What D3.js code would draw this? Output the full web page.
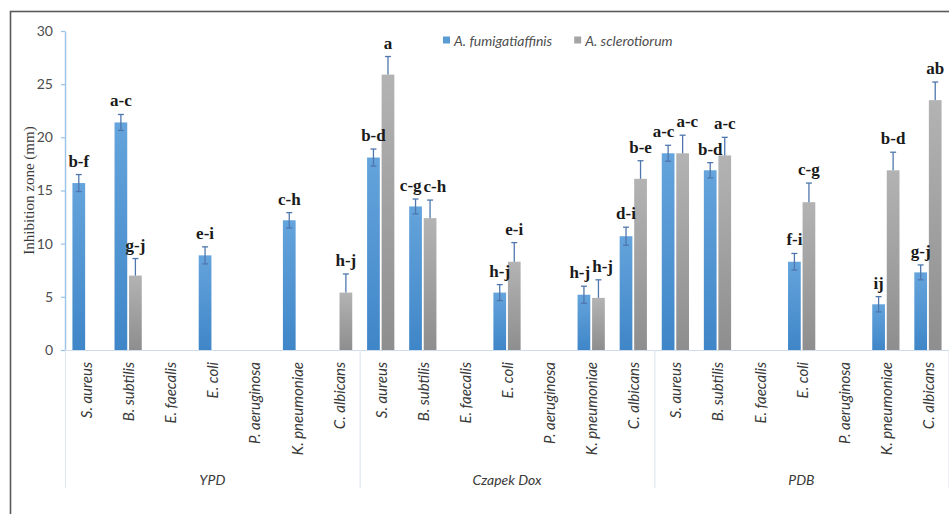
<!DOCTYPE html>
<html>
<head>
<meta charset="utf-8">
<script src="https://cdn.jsdelivr.net/npm/d3@7"></script>
<style>
  html, body { margin: 0; padding: 0; background: #fff; }
  svg { display: block; }
</style>
</head>
<body>
<svg id="chart" width="949" height="514"></svg>
<script>
// Culture media (category groups) and test organisms
const media = ["YPD", "Czapek Dox", "PDB"];
const organisms = ["S. aureus", "B. subtilis", "E. faecalis", "E. coli", "P. aeruginosa", "K. pneumoniae", "C. albicans"];
const seriesNames = ["A. fumigatiaffinis", "A. sclerotiorum"];

// Inhibition zone (mm), one value per medium × organism; null = no zone
const fumigatiaffinis = [15.7, 21.4, null, 8.9, null, 12.2, null,
                         18.1, 13.5, null, 5.4, null, 5.2, 10.7,
                         18.5, 16.9, null, 8.3, null, 4.3, 7.3];
const fumigatiaffinisErr = [0.8, 0.75, null, 0.8, null, 0.72, null,
                            0.8, 0.7, null, 0.75, null, 0.8, 0.85,
                            0.75, 0.72, null, 0.78, null, 0.72, 0.7];
const fumigatiaffinisLetters = ["b-f", "a-c", "", "e-i", "", "c-h", "",
                                "b-d", "c-g", "", "h-j", "", "h-j", "d-i",
                                "a-c", "b-d", "", "f-i", "", "ij", "g-j"];

const sclerotiorum = [null, 7.0, null, null, null, null, 5.4,
                      25.9, 12.4, null, 8.3, null, 4.9, 16.1,
                      18.5, 18.3, null, 13.9, null, 16.9, 23.5];
const sclerotiorumErr = [null, 1.6, null, null, null, null, 1.75,
                         1.7, 1.7, null, 1.8, null, 1.7, 1.7,
                         1.7, 1.7, null, 1.8, null, 1.7, 1.7];
const sclerotiorumLetters = ["", "g-j", "", "", "", "", "h-j",
                             "a", "c-h", "", "e-i", "", "h-j", "b-e",
                             "a-c", "a-c", "", "c-g", "", "b-d", "ab"];

const yTicks = [0, 5, 10, 15, 20, 25, 30];

// ---- build rows ----
const keys = [];
media.forEach((m, gi) => organisms.forEach((o, oi) => keys.push({ key: m + "|" + o, medium: m, organism: o, idx: gi * organisms.length + oi })));

const seriesData = [
  { name: seriesNames[0], values: fumigatiaffinis, err: fumigatiaffinisErr, letters: fumigatiaffinisLetters, both: true, grad: "gBlue", swatch: "#5b9bd5" },
  { name: seriesNames[1], values: sclerotiorum, err: sclerotiorumErr, letters: sclerotiorumLetters, both: false, grad: "gGray", swatch: "#a5a5a5" }
];

const svg = d3.select("#chart");

// gradients for the bar fills
const defs = svg.append("defs");
function grad(id, top, bottom) {
  const g = defs.append("linearGradient").attr("id", id).attr("x1", 0).attr("y1", 0).attr("x2", 0).attr("y2", 1);
  g.append("stop").attr("offset", "0%").attr("stop-color", top);
  g.append("stop").attr("offset", "100%").attr("stop-color", bottom);
}
grad("gBlue", "#65a4dc", "#3f86c8");
grad("gGray", "#b3b3b3", "#8e8e8e");

// outer frame
svg.append("rect").attr("x", 10.5).attr("y", 11.5).attr("width", 960).attr("height", 530)
  .attr("fill", "none").attr("stroke", "#5a5a5a").attr("stroke-width", 1.6);

const plotLeft = 65, plotRight = 949, plotTop = 31, plotBottom = 350;

const x0 = d3.scaleBand().domain(keys.map(d => d.key)).range([plotLeft, plotRight]).padding(0);
const bw = x0.bandwidth();
const clusterHalf = bw * 0.345;
const x1 = d3.scaleBand().domain(seriesNames).range([-clusterHalf, clusterHalf]).padding(0);
const y = d3.scaleLinear().domain([0, 30]).range([plotBottom, plotTop]);

// y axis
const yAxis = svg.append("g").attr("transform", `translate(${plotLeft},0)`)
  .call(d3.axisLeft(y).tickValues(yTicks).tickSize(4).tickSizeOuter(0).tickPadding(8));
yAxis.select(".domain").attr("stroke", "#9cc2e5").attr("stroke-width", 1.4);
yAxis.selectAll(".tick line").attr("stroke", "#9cc2e5").attr("stroke-width", 1.2);
yAxis.selectAll(".tick text").attr("fill", "#4d4d4d").style("font-family", "Lato, 'Noto Sans', sans-serif").style("font-size", "14px");

// y axis title
svg.append("text")
  .attr("transform", `translate(29,${(plotTop + plotBottom) / 2}) rotate(-90)`)
  .attr("text-anchor", "middle").attr("dominant-baseline", "central")
  .style("font-family", "'Liberation Serif', 'DejaVu Serif', serif").style("font-size", "15px")
  .attr("fill", "#3a3a3a")
  .text("Inhibition zone (mm)");

// x axis baseline and group dividers
svg.append("line").attr("x1", plotLeft).attr("x2", plotRight).attr("y1", plotBottom + 0.5).attr("y2", plotBottom + 0.5)
  .attr("stroke", "#cfdcec").attr("stroke-width", 1.2);
const dividerX = d3.range(media.length + 1).map(i => i === media.length ? plotRight - 0.5 : x0(keys[i * organisms.length].key));
svg.selectAll("line.divider").data(dividerX).join("line").attr("class", "divider")
  .attr("x1", d => d + 0.5).attr("x2", d => d + 0.5).attr("y1", plotBottom).attr("y2", 488)
  .attr("stroke", "#dfe7f1").attr("stroke-width", 1.2);

// category labels
svg.selectAll("text.cat").data(keys).join("text").attr("class", "cat")
  .attr("transform", d => `translate(${x0(d.key) + bw / 2},362) rotate(-90)`)
  .attr("text-anchor", "end").attr("dominant-baseline", "central")
  .style("font-family", "Lato, 'Noto Sans', sans-serif").style("font-style", "italic").style("font-size", "15px")
  .attr("fill", "#3a3a3a")
  .text(d => d.organism);

// group labels
svg.selectAll("text.grp").data(media).join("text").attr("class", "grp")
  .attr("x", (d, i) => (dividerX[i] + dividerX[i + 1]) / 2).attr("y", 479)
  .attr("text-anchor", "middle").attr("dominant-baseline", "central")
  .style("font-family", "Lato, 'Noto Sans', sans-serif").style("font-style", "italic").style("font-size", "14px")
  .attr("fill", "#3a3a3a")
  .text(d => d);

// bars
const inset = 0.9;
seriesData.forEach(s => {
  const rows = keys.filter(k => s.values[k.idx] != null);
  svg.append("g").selectAll("rect").data(rows).join("rect")
    .attr("x", k => x0(k.key) + bw / 2 + x1(s.name) + inset)
    .attr("width", x1.bandwidth() - 2 * inset)
    .attr("y", k => y(s.values[k.idx]))
    .attr("height", k => y(0) - y(s.values[k.idx]))
    .attr("fill", `url(#${s.grad})`);
});

// error bars
const capHalf = 3;
seriesData.forEach(s => {
  const rows = keys.filter(k => s.values[k.idx] != null && s.err[k.idx] != null);
  const g = svg.append("g").attr("stroke", "#4f77ad").attr("stroke-width", 1.3).attr("fill", "none");
  rows.forEach(k => {
    const cx = x0(k.key) + bw / 2 + x1(s.name) + x1.bandwidth() / 2;
    const v = s.values[k.idx], e = s.err[k.idx];
    const lo = s.both ? v - e : v, hi = v + e;
    g.append("line").attr("x1", cx).attr("x2", cx).attr("y1", y(lo)).attr("y2", y(hi));
    g.append("line").attr("x1", cx - capHalf).attr("x2", cx + capHalf).attr("y1", y(hi)).attr("y2", y(hi));
    if (s.both) g.append("line").attr("x1", cx - capHalf).attr("x2", cx + capHalf).attr("y1", y(lo)).attr("y2", y(lo));
  });
});

// significance letters above each bar's error bar
const labelFont = "'Liberation Serif', 'Times New Roman', serif";
const gapAbove = 8;
const labels = [];
seriesData.forEach((s, si) => {
  keys.forEach(k => {
    const t = s.letters[k.idx];
    if (!t || s.values[k.idx] == null) return;
    const cx = x0(k.key) + bw / 2 + x1(s.name) + x1.bandwidth() / 2;
    labels.push({ key: k.key, si, text: t, x: cx, y: y(s.values[k.idx] + (s.err[k.idx] || 0)) - gapAbove });
  });
});
const lg = svg.append("g");
const labelNodes = lg.selectAll("text").data(labels).join("text")
  .attr("text-anchor", "middle")
  .style("font-family", labelFont).style("font-weight", "bold").style("font-size", "17px")
  .attr("fill", "#1a1a1a")
  .text(d => d.text);
labelNodes.each(function (d) { d.w = this.getComputedTextLength(); });
// spread pairs of labels in one category apart when they would collide
d3.groups(labels, d => d.key).forEach(([, pair]) => {
  if (pair.length < 2) return;
  const [a, b] = pair;
  if (Math.abs(a.y - b.y) >= 14) return;
  const need = (a.w + b.w) / 2 + 2 - (b.x - a.x);
  if (need > 0) { a.x -= need / 2; b.x += need / 2; }
});
labelNodes.attr("x", d => d.x).attr("y", d => d.y);

// legend
const legend = svg.append("g").attr("transform", "translate(443,40)");
let lx = 0;
seriesData.forEach(s => {
  const item = legend.append("g").attr("transform", `translate(${lx},0)`);
  item.append("rect").attr("x", 0).attr("y", -3.5).attr("width", 7).attr("height", 7).attr("fill", s.swatch);
  const t = item.append("text").attr("x", 11).attr("y", 0).attr("dominant-baseline", "central")
    .style("font-family", "Lato, 'Noto Sans', sans-serif").style("font-style", "italic").style("font-size", "14px")
    .attr("fill", "#4d4d4d").text(s.name);
  lx += 11 + t.node().getComputedTextLength() + 22;
});
</script>
</body>
</html>
